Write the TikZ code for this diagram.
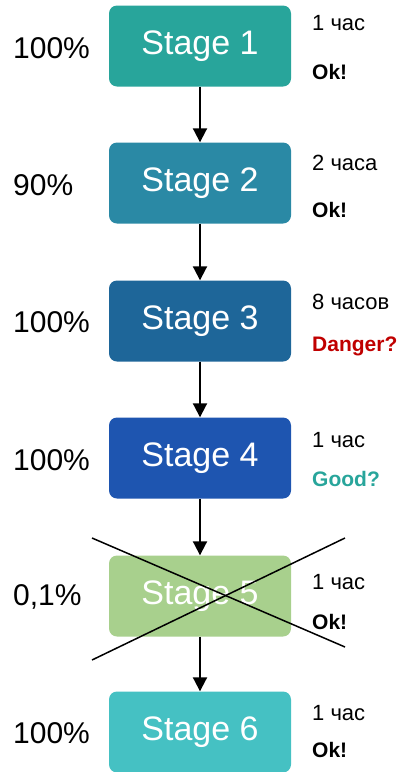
\documentclass[tikz,border=0pt]{standalone}
\usepackage{fontspec}
\setmainfont{Liberation Sans}
\usetikzlibrary{positioning,arrows.meta}
\definecolor{stageone}{RGB}{40,165,155}
\definecolor{stagetwo}{RGB}{42,137,165}
\definecolor{stagethree}{RGB}{30,102,153}
\definecolor{stagefour}{RGB}{30,85,176}
\definecolor{stagefive}{RGB}{168,208,141}
\definecolor{stagesix}{RGB}{69,193,195}
\definecolor{dangerred}{RGB}{192,0,0}
\definecolor{goodteal}{RGB}{40,165,155}

\begin{document}
\begin{tikzpicture}[x=1pt,y=-1pt,
    stagebox/.style={rectangle, rounded corners=8pt, minimum width=182pt, minimum height=81pt,
      text=white, font=\fontsize{34}{38}\selectfont},
    pct/.style={anchor=west, inner sep=0pt, font=\fontsize{30}{34}\selectfont},
    hours/.style={anchor=west, inner sep=0pt, font=\fontsize{22}{26}\selectfont},
    verdict/.style={anchor=west, inner sep=0pt, font=\fontsize{21}{25}\selectfont\bfseries},
    flow/.style={-{Triangle[width=14pt,length=14pt]}, line width=2pt}]
  \useasboundingbox (0,0) rectangle (403,772);

  % stages
  \node[stagebox, fill=stageone]   (stage1) at (200,46)  {Stage 1};
  \node[stagebox, fill=stagetwo]   (stage2) at (200,183) {Stage 2};
  \node[stagebox, fill=stagethree] (stage3) at (200,321) {Stage 3};
  \node[stagebox, fill=stagefour]  (stage4) at (200,458) {Stage 4};
  \node[stagebox, fill=stagefive]  (stage5) at (200,596) {Stage 5};
  \node[stagebox, fill=stagesix]   (stage6) at (200,732) {Stage 6};

  \foreach \a/\b in {1/2,2/3,3/4,4/5,5/6}
    \draw[flow] (stage\a) -- (stage\b);

  % share of data
  \node[pct] (pct1) at (13,48)  {100\%};
  \node[pct] (pct2) at (13,185) {90\%};
  \node[pct] (pct3) at (13,322) {100\%};
  \node[pct] (pct4) at (13,460) {100\%};
  \node[pct] (pct5) at (13,597) {0,1\%};
  \node[pct] (pct6) at (13,733) {100\%};

  % time and verdict
  \node[hours] (time1) at (312,23)  {1 час};
  \node[verdict] (note1) at (312,72)  {Ok!};
  \node[hours] (time2) at (312,163) {2 часа};
  \node[verdict] (note2) at (312,210) {Ok!};
  \node[hours] (time3) at (312,302) {8 часов};
  \node[verdict, text=dangerred] (note3) at (312,346) {Danger?};
  \node[hours] (time4) at (312,440) {1 час};
  \node[verdict, text=goodteal] (note4) at (312,479) {Good?};
  \node[hours] (time5) at (312,582) {1 час};
  \node[verdict] (note5) at (312,622) {Ok!};
  \node[hours] (time6) at (312,713) {1 час};
  \node[verdict] (note6) at (312,750) {Ok!};

  % stage 5 is crossed out
  \coordinate (xa) at (92,538);
  \coordinate (xb) at (345,647);
  \coordinate (xc) at (92,660);
  \coordinate (xd) at (345,538);
  \draw[line width=1.5pt] (xa) -- (xb);
  \draw[line width=1.5pt] (xc) -- (xd);
\end{tikzpicture}
\end{document}
